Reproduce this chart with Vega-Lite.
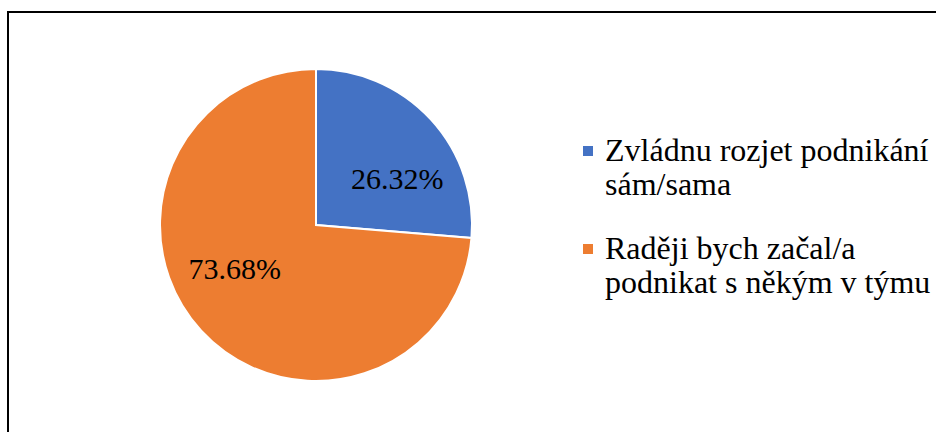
{
  "$schema": "https://vega.github.io/schema/vega-lite/v6.json",
  "autosize": "none",
  "width": 940,
  "height": 440,
  "padding": {"left": 8, "top": 12, "right": 0, "bottom": 0},
  "background": "white",
  "config": {
    "view": {"stroke": null},
    "font": "Liberation Serif"
  },
  "data": {
    "values": [
      {"category": "Zvládnu rozjet podnikání|sám/sama", "order": 1, "value": 26.32, "label": "26.32%"},
      {"category": "Raději bych začal/a|podnikat s někým v týmu", "order": 2, "value": 73.68, "label": "73.68%"}
    ]
  },
  "layer": [
    {
      "mark": {"type": "rect", "fill": null, "stroke": "black", "strokeWidth": 2},
      "encoding": {}
    },
    {
      "mark": {"type": "arc", "outerRadius": 156, "x": 308, "y": 213, "stroke": "white", "strokeWidth": 2},
      "encoding": {
        "theta": {"field": "value", "type": "quantitative", "stack": true},
        "order": {"field": "order", "type": "quantitative"},
        "color": {
          "field": "category",
          "type": "nominal",
          "sort": ["Zvládnu rozjet podnikání|sám/sama", "Raději bych začal/a|podnikat s někým v týmu"],
          "scale": {"range": ["#4472C4", "#ED7D31"]},
          "legend": {
            "title": null,
            "orient": "none",
            "legendX": 564,
            "legendY": 133,
            "symbolType": "M-1,-3H1V-1H-1Z",
            "symbolSize": 100,
            "symbolStrokeWidth": 0,
            "labelFont": "Liberation Serif",
            "labelFontSize": 32,
            "labelColor": "black",
            "labelLimit": 400,
            "labelOffset": 1,
            "rowPadding": 32,
            "labelBaseline": "alphabetic",
            "labelExpr": "split(datum.label, '|')"
          }
        }
      }
    },
    {
      "mark": {"type": "text", "radius": 93, "x": 308, "y": 213, "font": "Liberation Serif", "fontSize": 30, "color": "black"},
      "encoding": {
        "theta": {"field": "value", "type": "quantitative", "stack": true, "scale": {"range": [0.2356, 6.5188]}},
        "order": {"field": "order", "type": "quantitative"},
        "text": {"field": "label", "type": "nominal"}
      }
    }
  ],
  "resolve": {"scale": {"theta": "independent"}}
}
